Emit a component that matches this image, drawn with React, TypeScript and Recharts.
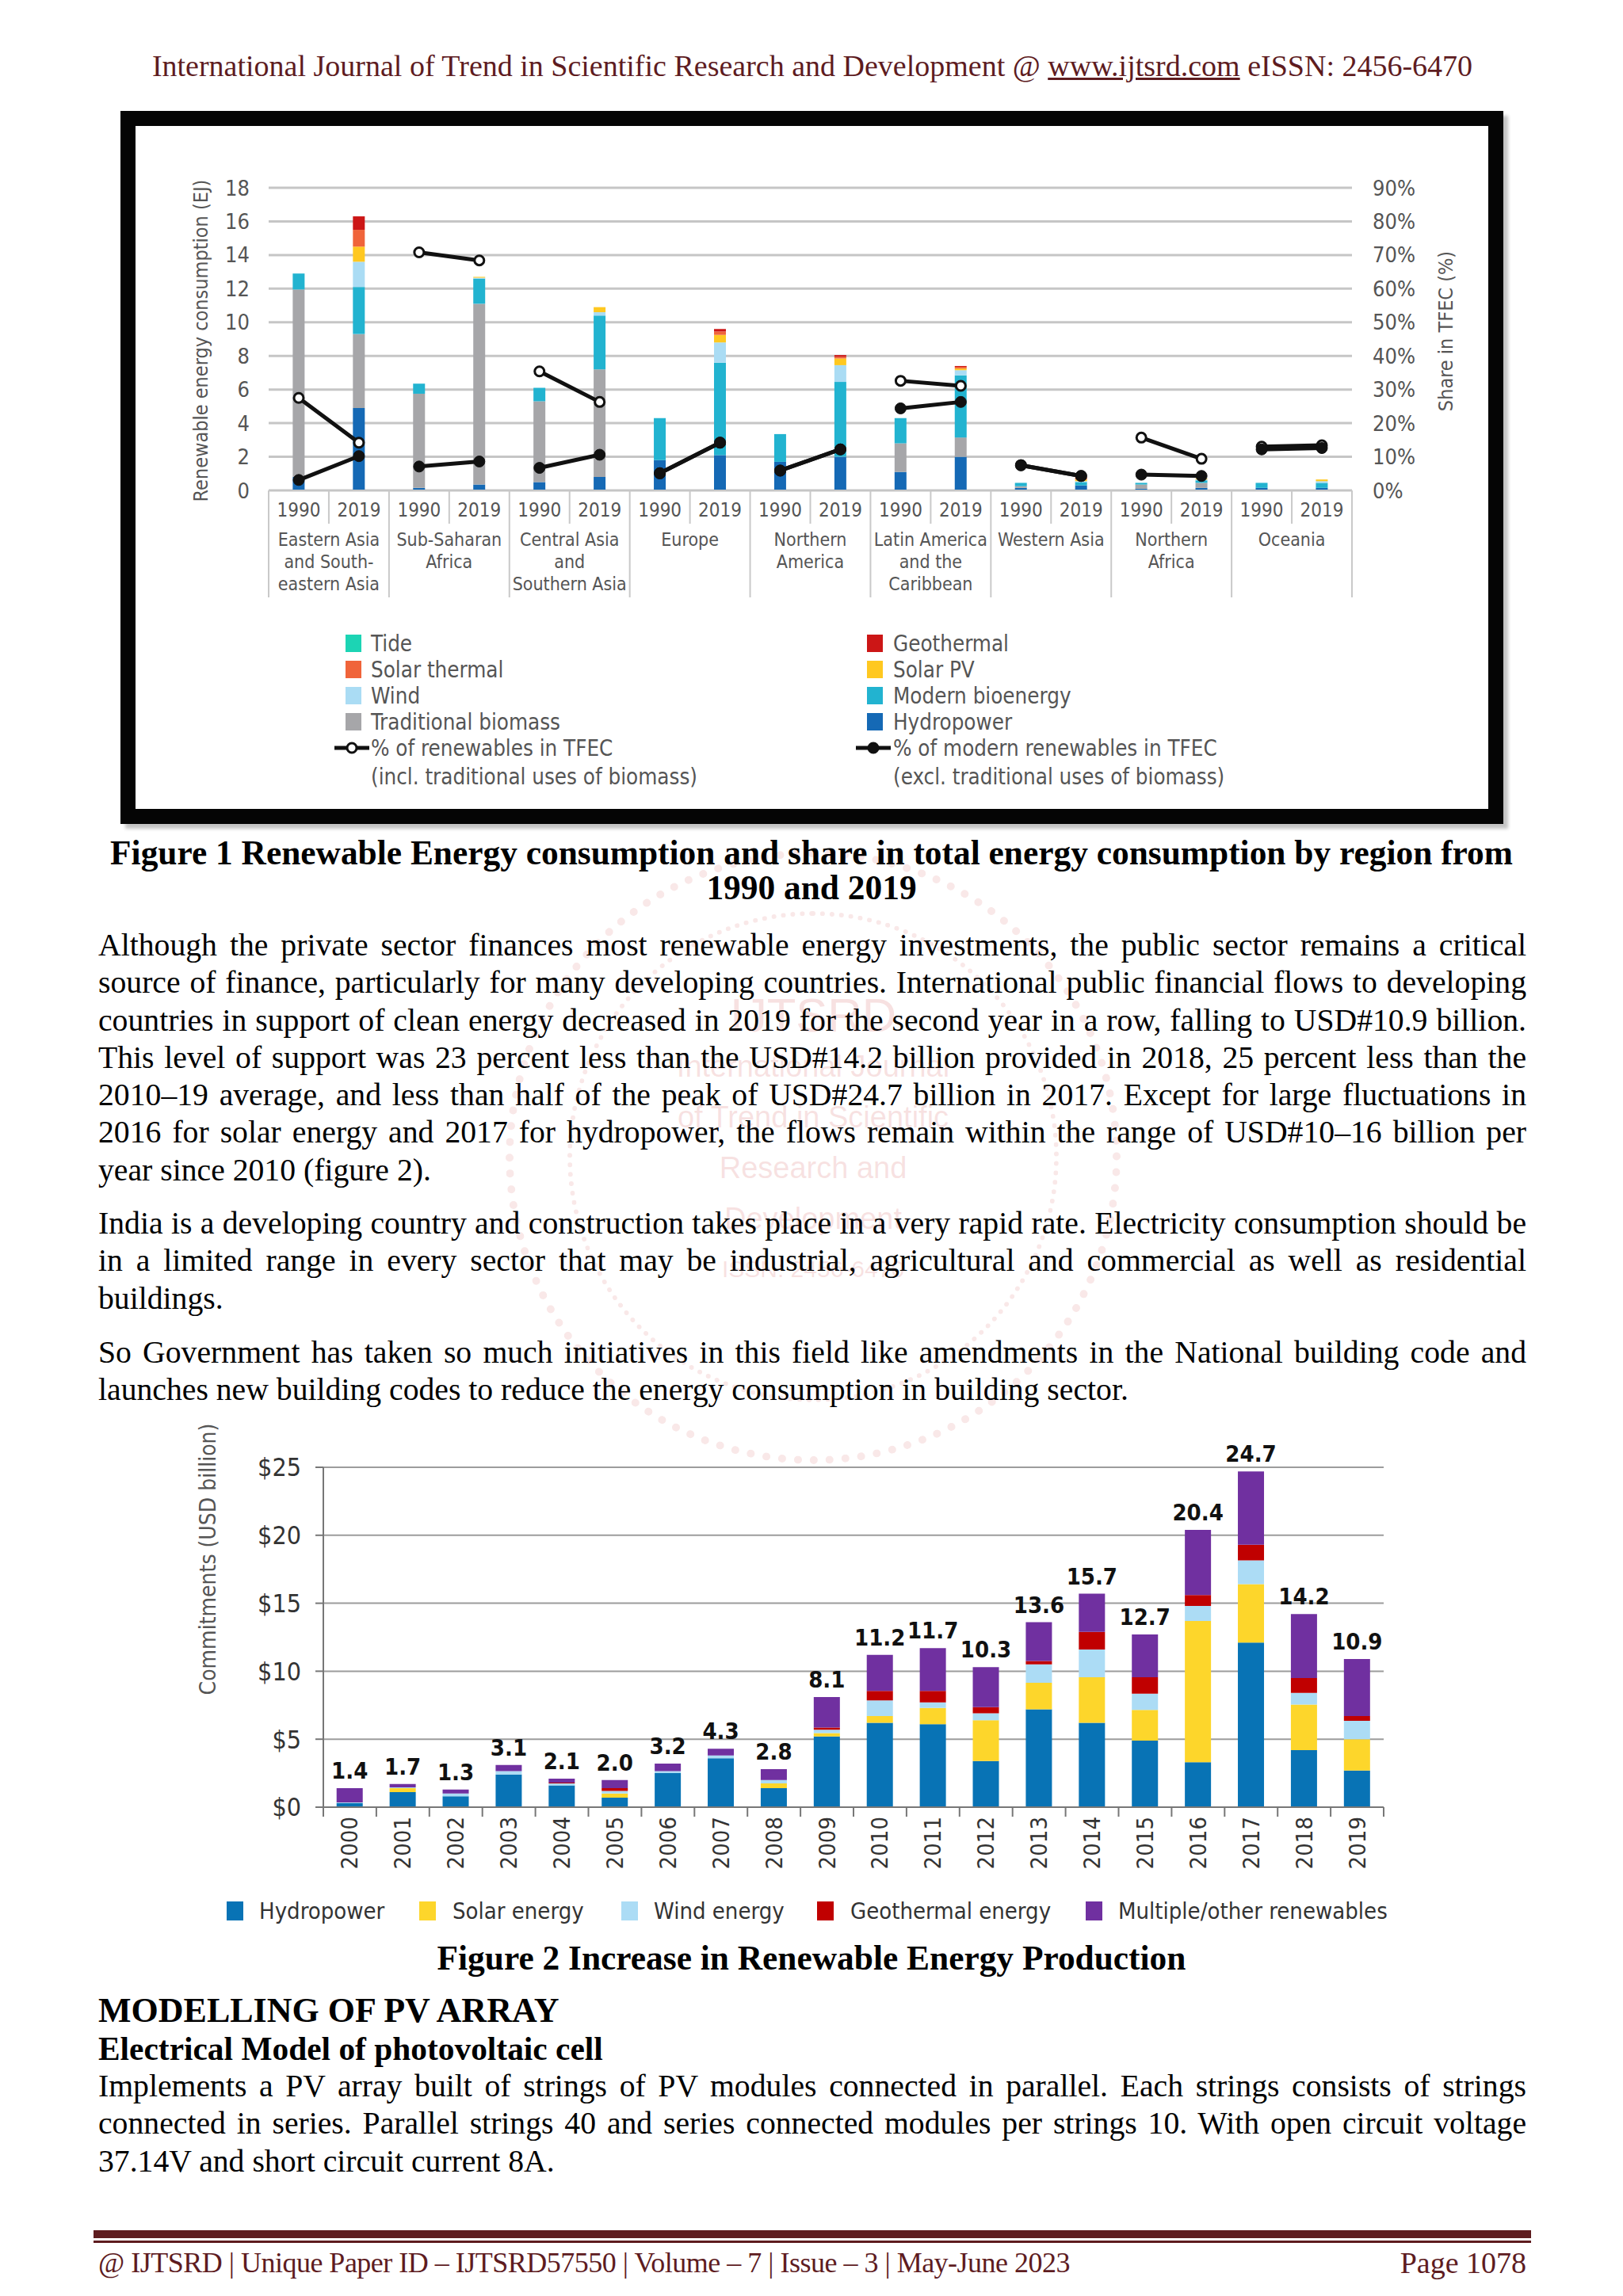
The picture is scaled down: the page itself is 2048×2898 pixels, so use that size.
import React from 'react';
import {
  Bar,
  BarChart,
  CartesianGrid,
  ComposedChart,
  LabelList,
  Line,
  XAxis,
  YAxis,
} from 'recharts';

const NARROW = "'Liberation Sans Narrow', 'Arial Narrow', 'DejaVu Sans Condensed', 'Liberation Sans', sans-serif";
const SERIF = "'Liberation Serif', 'Times New Roman', serif";
const MAROON = '#5e1c1f';

// ---- Figure 1: renewable energy consumption by region (EJ), 1990 / 2019 ----
const studyYears = ['1990', '2019'];
const regionLines = [
  ['Eastern Asia', 'and South-', 'eastern Asia'],
  ['Sub-Saharan', 'Africa'],
  ['Central Asia', 'and', 'Southern Asia'],
  ['Europe'],
  ['Northern', 'America'],
  ['Latin America', 'and the', 'Caribbean'],
  ['Western Asia'],
  ['Northern', 'Africa'],
  ['Oceania'],
];
// one value per bar: region order above, 1990 then 2019
const hydro = [0.8, 4.9, 0.15, 0.35, 0.5, 0.8, 1.8, 2.1, 1.7, 2.0, 1.1, 2.0, 0.15, 0.3, 0.1, 0.15, 0.15, 0.15];
const tradBiomass = [11.15, 4.4, 5.6, 10.75, 4.8, 6.4, 0, 0, 0, 0, 1.7, 1.15, 0.1, 0, 0.25, 0.3, 0, 0];
const modernBio = [0.95, 2.8, 0.6, 1.5, 0.8, 3.2, 2.5, 5.5, 1.65, 4.45, 1.5, 3.7, 0.2, 0.2, 0.1, 0.15, 0.3, 0.3];
const wind = [0, 1.5, 0, 0.05, 0, 0.2, 0, 1.2, 0, 1.0, 0, 0.3, 0, 0.05, 0, 0.05, 0, 0.1];
const solarPv = [0, 0.9, 0, 0.05, 0, 0.3, 0, 0.45, 0, 0.4, 0, 0.1, 0, 0.1, 0, 0.05, 0, 0.1];
const solarThermal = [0, 1.0, 0, 0, 0, 0, 0, 0.2, 0, 0.1, 0, 0.1, 0, 0.15, 0, 0, 0, 0];
const geothermal = [0, 0.8, 0, 0, 0, 0, 0, 0.15, 0, 0.1, 0, 0.05, 0, 0, 0, 0, 0, 0];
const tide = [0, 0, 0, 0, 0, 0, 0, 0, 0, 0, 0, 0, 0, 0, 0, 0, 0, 0];
// share in TFEC (%)
const shareIncl = [27.5, 14.2, 70.8, 68.4, 35.4, 26.3, 5.1, 14.2, 5.9, 12.2, 32.6, 31.1, 7.5, 4.3, 15.7, 9.4, 13.0, 13.4];
const shareExcl = [3.1, 10.2, 7.1, 8.6, 6.7, 10.6, 5.1, 14.2, 5.9, 12.2, 24.4, 26.3, 7.5, 4.3, 4.7, 4.3, 12.2, 12.6];

const C1 = {
  hydro: '#1569b5',
  trad: '#a6a6a9',
  modern: '#22b3d0',
  wind: '#aadcf4',
  pv: '#ffc820',
  thermal: '#f0643a',
  geo: '#cc1616',
  tide: '#1cd4b4',
};

// split the share lines in two keys so that each region gets its own segment
const f1Rows = regionLines.flatMap((_, ri) =>
  studyYears.map((yr, yi) => {
    const i = ri * 2 + yi;
    const even = ri % 2 === 0;
    return {
      key: `${ri}|${yr}`,
      hydro: hydro[i],
      trad: tradBiomass[i],
      modern: modernBio[i],
      wind: wind[i],
      pv: solarPv[i],
      thermal: solarThermal[i],
      geo: geothermal[i],
      tide: tide[i],
      inclA: even ? shareIncl[i] : null,
      inclB: even ? null : shareIncl[i],
      exclA: even ? shareExcl[i] : null,
      exclB: even ? null : shareExcl[i],
    };
  })
);

const F1 = { left: 170, top: 158, width: 1705, height: 620, plotLeft: 339, plotRight: 1706 };
const F1_SLOT = (F1.plotRight - F1.plotLeft) / f1Rows.length;

// ---- Figure 2: international public flows (USD billion) ----
const fundYears = ['2000', '2001', '2002', '2003', '2004', '2005', '2006', '2007', '2008', '2009', '2010', '2011', '2012', '2013', '2014', '2015', '2016', '2017', '2018', '2019'];
const fundHydro = [0.3, 1.1, 0.8, 2.4, 1.6, 0.7, 2.5, 3.6, 1.4, 5.2, 6.2, 6.1, 3.4, 7.2, 6.2, 4.9, 3.3, 12.1, 4.2, 2.7];
const fundSolar = [0, 0.3, 0, 0, 0, 0.3, 0, 0, 0.35, 0.25, 0.5, 1.2, 3.0, 1.95, 3.35, 2.25, 10.4, 4.3, 3.35, 2.3];
const fundWind = [0.05, 0.05, 0.2, 0.25, 0.15, 0.2, 0.15, 0.2, 0.25, 0.25, 1.15, 0.4, 0.5, 1.35, 2.05, 1.2, 1.1, 1.75, 0.85, 1.35];
const fundGeo = [0, 0, 0, 0, 0.05, 0.2, 0, 0, 0, 0.15, 0.7, 0.85, 0.45, 0.25, 1.3, 1.2, 0.8, 1.15, 1.1, 0.35];
const fundOther = [1.05, 0.25, 0.3, 0.45, 0.3, 0.6, 0.55, 0.5, 0.8, 2.25, 2.65, 3.15, 2.95, 2.85, 2.8, 3.15, 4.8, 5.4, 4.7, 4.2];
const fundTotals = [1.4, 1.7, 1.3, 3.1, 2.1, 2.0, 3.2, 4.3, 2.8, 8.1, 11.2, 11.7, 10.3, 13.6, 15.7, 12.7, 20.4, 24.7, 14.2, 10.9];

const C2 = { hydro: '#0873b5', solar: '#fdd62b', wind: '#acdcf5', geo: '#c00000', other: '#7030a0' };

const f2Rows = fundYears.map((year, i) => ({
  year,
  hydro: fundHydro[i],
  solar: fundSolar[i],
  wind: fundWind[i],
  geo: fundGeo[i],
  other: fundOther[i],
  total: fundTotals[i],
}));

const F2 = { left: 250, top: 1790, width: 1540, height: 590, plotLeft: 408, plotRight: 1746 };
const F2_SLOT = (F2.plotRight - F2.plotLeft) / f2Rows.length;

// ---- page text ----
const para1 = [
  'Although the private sector finances most renewable energy investments, the public sector remains a critical',
  'source of finance, particularly for many developing countries. International public financial flows to developing',
  'countries in support of clean energy decreased in 2019 for the second year in a row, falling to USD#10.9 billion.',
  'This level of support was 23 percent less than the USD#14.2 billion provided in 2018, 25 percent less than the',
  '2010–19 average, and less than half of the peak of USD#24.7 billion in 2017. Except for large fluctuations in',
  '2016 for solar energy and 2017 for hydropower, the flows remain within the range of USD#10–16 billion per',
  'year since 2010 (figure 2).',
];
const para2 = [
  'India is a developing country and construction takes place in a very rapid rate. Electricity consumption should be',
  'in a limited range in every sector that may be industrial, agricultural and commercial as well as residential',
  'buildings.',
];
const para3 = [
  'So Government has taken so much initiatives in this field like amendments in the National building code and',
  'launches new building codes to reduce the energy consumption in building sector.',
];
const para4 = [
  'Implements a PV array built of strings of PV modules connected in parallel. Each strings consists of strings',
  'connected in series. Parallel strings 40 and series connected modules per strings 10. With open circuit voltage',
  '37.14V and short circuit current 8A.',
];

function Paragraph({ lines, top }: { lines: string[]; top: number }) {
  return (
    <div style={{ position: 'absolute', left: 124, top, width: 1802, fontFamily: SERIF, fontSize: 39.7, lineHeight: '47.3px', color: '#000' }}>
      {lines.map((t, i) => (
        <div key={i} style={{ textAlign: 'justify', textAlignLast: i === lines.length - 1 ? 'left' : 'justify', whiteSpace: 'nowrap' }}>
          {t}
        </div>
      ))}
    </div>
  );
}

function F1Tick(props: any) {
  const { x, y, payload } = props;
  const [riStr, yr] = String(payload.value).split('|');
  const ri = Number(riStr);
  const half = F1_SLOT / 2;
  const isFirst = yr === studyYears[0];
  const isLastGroup = ri === regionLines.length - 1;
  const grey = '#c9c9c9';
  return (
    <g fontFamily={NARROW}>
      <text x={x} y={y + 33} textAnchor="middle" fontSize={24} fill="#555">
        {yr}
      </text>
      {isFirst && (
        <>
          <line x1={x - half} x2={x - half} y1={y} y2={y + 135} stroke={grey} strokeWidth={2} />
          <line x1={x + half} x2={x + half} y1={y} y2={y + 42} stroke={grey} strokeWidth={2} />
          {regionLines[ri].map((t, k) => (
            <text key={k} x={x + half} y={y + 70 + k * 28} textAnchor="middle" fontSize={23} fill="#555">
              {t}
            </text>
          ))}
        </>
      )}
      {!isFirst && isLastGroup && (
        <line x1={x + half} x2={x + half} y1={y} y2={y + 135} stroke={grey} strokeWidth={2} />
      )}
    </g>
  );
}

function F2Tick(props: any) {
  const { x, y, payload } = props;
  const half = F2_SLOT / 2;
  const last = payload.value === fundYears[fundYears.length - 1];
  return (
    <g>
      <line x1={x - half} x2={x - half} y1={y} y2={y + 12} stroke="#777" strokeWidth={2} />
      {last && <line x1={x + half} x2={x + half} y1={y} y2={y + 12} stroke="#777" strokeWidth={2} />}
      <text
        transform={`translate(${x + 10},${y + 12}) rotate(-90)`}
        textAnchor="end"
        fontSize={29}
        fill="#333"
        fontFamily={NARROW}
      >
        {payload.value}
      </text>
    </g>
  );
}

function Swatch({ x, y, color, w = 20, h = 22 }: { x: number; y: number; color: string; w?: number; h?: number }) {
  return <div style={{ position: 'absolute', left: x, top: y - h / 2, width: w, height: h, background: color }} />;
}

function Label({ x, y, text, size, color = '#555', family = NARROW, bold = false }: any) {
  return (
    <div
      style={{
        position: 'absolute',
        left: x,
        top: y - size * 0.6,
        fontSize: size,
        lineHeight: `${size * 1.2}px`,
        color,
        fontFamily: family,
        fontWeight: bold ? 700 : 400,
        whiteSpace: 'nowrap',
      }}
    >
      {text}
    </div>
  );
}

function LineSymbol({ x, y, open }: { x: number; y: number; open: boolean }) {
  return (
    <svg style={{ position: 'absolute', left: x, top: y - 10 }} width={48} height={20}>
      <line x1={2} x2={46} y1={10} y2={10} stroke="#111" strokeWidth={5} />
      <circle cx={24} cy={10} r={6} fill={open ? '#fff' : '#111'} stroke="#111" strokeWidth={3} />
    </svg>
  );
}

export default function App() {
  const f1LegendLeft = [
    { name: 'Tide', color: C1.tide },
    { name: 'Solar thermal', color: C1.thermal },
    { name: 'Wind', color: C1.wind },
    { name: 'Traditional biomass', color: C1.trad },
  ];
  const f1LegendRight = [
    { name: 'Geothermal', color: C1.geo },
    { name: 'Solar PV', color: C1.pv },
    { name: 'Modern bioenergy', color: C1.modern },
    { name: 'Hydropower', color: C1.hydro },
  ];
  const rowY = [812, 845, 878, 911, 944, 980];

  const f2Legend = [
    { name: 'Hydropower', color: C2.hydro, sx: 286, tx: 327 },
    { name: 'Solar energy', color: C2.solar, sx: 529, tx: 571 },
    { name: 'Wind energy', color: C2.wind, sx: 784, tx: 825 },
    { name: 'Geothermal energy', color: C2.geo, sx: 1031, tx: 1073 },
    { name: 'Multiple/other renewables', color: C2.other, sx: 1370, tx: 1411 },
  ];

  return (
    <div style={{ position: 'relative', width: 2048, height: 2898, background: '#fff', overflow: 'hidden' }}>
      <style>{'body{margin:0}'}</style>

      {/* watermark */}
      <div style={{ position: 'absolute', left: 1026 - 388, top: 1460 - 388, width: 776, height: 776, borderRadius: '50%', border: '10px dotted rgba(215,110,110,0.16)', boxSizing: 'border-box' }} />
      <div style={{ position: 'absolute', left: 1026 - 310, top: 1460 - 310, width: 620, height: 620, borderRadius: '50%', border: '6px dotted rgba(215,110,110,0.16)', boxSizing: 'border-box' }} />
      <div style={{ position: 'absolute', left: 726, top: 1250, width: 600, textAlign: 'center', fontFamily: "'Liberation Sans', sans-serif", color: 'rgba(220,120,120,0.22)', fontSize: 38, lineHeight: '64px' }}>
        <div style={{ fontSize: 60 }}>IJTSRD</div>
        <div>International Journal</div>
        <div>of Trend in Scientific</div>
        <div>Research and</div>
        <div>Development</div>
        <div style={{ fontSize: 30 }}>ISSN: 2456-6470</div>
      </div>

      {/* running header */}
      <div style={{ position: 'absolute', left: 0, top: 60, width: 2050, textAlign: 'center', fontFamily: SERIF, fontSize: 38, lineHeight: '46px', color: MAROON }}>
        International Journal of Trend in Scientific Research and Development @ <span style={{ textDecoration: 'underline' }}>www.ijtsrd.com</span> eISSN: 2456-6470
      </div>

      {/* Figure 1 frame */}
      <div style={{ position: 'absolute', left: 152, top: 140, width: 1745, height: 900, border: '19px solid #050505', boxSizing: 'border-box', background: '#fff', boxShadow: '6px 6px 4px #c4c4c4' }} />

      <div style={{ position: 'absolute', left: F1.left, top: F1.top }}>
        <ComposedChart
          width={F1.width}
          height={F1.height}
          data={f1Rows}
          margin={{ top: 79, right: 60, left: 60, bottom: 20 }}
          barCategoryGap="40%"
        >
          <CartesianGrid vertical={false} stroke="#c6c6c6" strokeWidth={3} yAxisId="l" />
          <XAxis dataKey="key" interval={0} tick={<F1Tick />} tickLine={false} tickSize={0} tickMargin={0} axisLine={{ stroke: '#c6c6c6', strokeWidth: 2 }} height={139} />
          <YAxis
            yAxisId="l"
            domain={[0, 18]}
            ticks={[0, 2, 4, 6, 8, 10, 12, 14, 16, 18]}
            width={109}
            axisLine={false}
            tickLine={false}
            tickSize={0}
            tickMargin={24}
            tick={{ fill: '#555', fontSize: 27, fontFamily: NARROW }}
          />
          <YAxis
            yAxisId="r"
            orientation="right"
            domain={[0, 90]}
            ticks={[0, 10, 20, 30, 40, 50, 60, 70, 80, 90]}
            tickFormatter={(v) => `${v}%`}
            width={109}
            axisLine={false}
            tickLine={false}
            tickSize={0}
            tickMargin={26}
            tick={{ fill: '#555', fontSize: 27, fontFamily: NARROW, textAnchor: 'start' }}
          />
          <Bar yAxisId="l" dataKey="hydro" stackId="s" fill={C1.hydro} isAnimationActive={false} />
          <Bar yAxisId="l" dataKey="trad" stackId="s" fill={C1.trad} isAnimationActive={false} />
          <Bar yAxisId="l" dataKey="modern" stackId="s" fill={C1.modern} isAnimationActive={false} />
          <Bar yAxisId="l" dataKey="wind" stackId="s" fill={C1.wind} isAnimationActive={false} />
          <Bar yAxisId="l" dataKey="pv" stackId="s" fill={C1.pv} isAnimationActive={false} />
          <Bar yAxisId="l" dataKey="thermal" stackId="s" fill={C1.thermal} isAnimationActive={false} />
          <Bar yAxisId="l" dataKey="geo" stackId="s" fill={C1.geo} isAnimationActive={false} />
          <Bar yAxisId="l" dataKey="tide" stackId="s" fill={C1.tide} isAnimationActive={false} />
          {['inclA', 'inclB'].map((k) => (
            <Line key={k} yAxisId="r" dataKey={k} stroke="#111" strokeWidth={5} connectNulls={false} dot={{ r: 6, fill: '#fff', stroke: '#111', strokeWidth: 3 }} isAnimationActive={false} />
          ))}
          {['exclA', 'exclB'].map((k) => (
            <Line key={k} yAxisId="r" dataKey={k} stroke="#111" strokeWidth={5} connectNulls={false} dot={{ r: 7, fill: '#111', stroke: '#111', strokeWidth: 1 }} isAnimationActive={false} />
          ))}
        </ComposedChart>
      </div>

      {/* Figure 1 axis titles */}
      <div style={{ position: 'absolute', left: 253, top: 430, transform: 'translate(-50%,-50%) rotate(-90deg)', whiteSpace: 'nowrap', fontFamily: NARROW, fontSize: 25, color: '#555' }}>
        Renewable energy consumption (EJ)
      </div>
      <div style={{ position: 'absolute', left: 1824, top: 418, transform: 'translate(-50%,-50%) rotate(-90deg)', whiteSpace: 'nowrap', fontFamily: NARROW, fontSize: 25, color: '#555' }}>
        Share in TFEC (%)
      </div>

      {/* Figure 1 legend */}
      {f1LegendLeft.map((it, i) => (
        <React.Fragment key={it.name}>
          <Swatch x={436} y={rowY[i]} color={it.color} />
          <Label x={468} y={rowY[i]} text={it.name} size={27.5} />
        </React.Fragment>
      ))}
      <LineSymbol x={420} y={rowY[4]} open />
      <Label x={468} y={rowY[4]} text="% of renewables in TFEC" size={27.5} />
      <Label x={468} y={rowY[5]} text="(incl. traditional uses of biomass)" size={27.5} />
      {f1LegendRight.map((it, i) => (
        <React.Fragment key={it.name}>
          <Swatch x={1094} y={rowY[i]} color={it.color} />
          <Label x={1127} y={rowY[i]} text={it.name} size={27.5} />
        </React.Fragment>
      ))}
      <LineSymbol x={1078} y={rowY[4]} open={false} />
      <Label x={1127} y={rowY[4]} text="% of modern renewables in TFEC" size={27.5} />
      <Label x={1127} y={rowY[5]} text="(excl. traditional uses of biomass)" size={27.5} />

      {/* Figure 1 caption */}
      <div style={{ position: 'absolute', left: 0, top: 1054, width: 2048, textAlign: 'center', fontFamily: SERIF, fontWeight: 700, fontSize: 43.4, lineHeight: '44px', color: '#000' }}>
        <div>Figure 1 Renewable Energy consumption and share in total energy consumption by region from</div>
        <div>1990 and 2019</div>
      </div>

      <Paragraph lines={para1} top={1170} />
      <Paragraph lines={para2} top={1521} />
      <Paragraph lines={para3} top={1684} />

      {/* Figure 2 */}
      <div style={{ position: 'absolute', left: F2.left, top: F2.top }}>
        <BarChart
          width={F2.width}
          height={F2.height}
          data={f2Rows}
          margin={{ top: 62, right: 44, left: 20, bottom: 9 }}
          barCategoryGap="25%"
        >
          <CartesianGrid vertical={false} stroke="#9c9c9c" strokeWidth={2} />
          <XAxis dataKey="year" interval={0} tick={<F2Tick />} tickLine={false} tickSize={0} tickMargin={0} axisLine={{ stroke: '#777', strokeWidth: 2 }} height={90} />
          <YAxis
            domain={[0, 25]}
            ticks={[0, 5, 10, 15, 20, 25]}
            tickFormatter={(v) => `$${v}`}
            width={138}
            axisLine={{ stroke: '#777', strokeWidth: 2 }}
            tickLine={{ stroke: '#777', strokeWidth: 2 }}
            tickSize={10}
            tickMargin={18}
            tick={{ fill: '#333', fontSize: 32, fontFamily: NARROW }}
          />
          <Bar dataKey="hydro" stackId="s" fill={C2.hydro} isAnimationActive={false} />
          <Bar dataKey="solar" stackId="s" fill={C2.solar} isAnimationActive={false} />
          <Bar dataKey="wind" stackId="s" fill={C2.wind} isAnimationActive={false} />
          <Bar dataKey="geo" stackId="s" fill={C2.geo} isAnimationActive={false} />
          <Bar dataKey="other" stackId="s" fill={C2.other} isAnimationActive={false}>
            <LabelList
              dataKey="total"
              position="top"
              offset={12}
              formatter={(v: any) => Number(v).toFixed(1)}
              style={{ fill: '#111', fontSize: 29, fontWeight: 700, fontFamily: NARROW }}
            />
          </Bar>
        </BarChart>
      </div>
      <div style={{ position: 'absolute', left: 262, top: 1968, transform: 'translate(-50%,-50%) rotate(-90deg)', whiteSpace: 'nowrap', fontFamily: NARROW, fontSize: 28, color: '#555' }}>
        Commitments (USD billion)
      </div>
      {f2Legend.map((it) => (
        <React.Fragment key={it.name}>
          <Swatch x={it.sx} y={2412} color={it.color} w={21} h={24} />
          <Label x={it.tx} y={2412} text={it.name} size={29} color="#333" />
        </React.Fragment>
      ))}

      <div style={{ position: 'absolute', left: 0, top: 2448, width: 2048, textAlign: 'center', fontFamily: SERIF, fontWeight: 700, fontSize: 43.4, lineHeight: '46px' }}>
        Figure 2 Increase in Renewable Energy Production
      </div>
      <div style={{ position: 'absolute', left: 124, top: 2514, fontFamily: SERIF, fontWeight: 700, fontSize: 44, lineHeight: '48px' }}>
        MODELLING OF PV ARRAY
      </div>
      <div style={{ position: 'absolute', left: 124, top: 2562, fontFamily: SERIF, fontWeight: 700, fontSize: 41.4, lineHeight: '48px' }}>
        Electrical Model of photovoltaic cell
      </div>
      <Paragraph lines={para4} top={2610} />

      {/* footer */}
      <div style={{ position: 'absolute', left: 118, top: 2815, width: 1814, height: 10, background: MAROON }} />
      <div style={{ position: 'absolute', left: 118, top: 2828, width: 1814, height: 3, background: MAROON }} />
      <div style={{ position: 'absolute', left: 124, top: 2836, fontFamily: SERIF, fontSize: 36, lineHeight: '40px', color: MAROON, whiteSpace: 'pre', letterSpacing: -0.5 }}>
        {'@ IJTSRD | Unique Paper ID – IJTSRD57550 | Volume – 7 | Issue – 3 | May-June 2023'}
      </div>
      <div style={{ position: 'absolute', right: 2048 - 1926, top: 2836, fontFamily: SERIF, fontSize: 38, lineHeight: '40px', color: MAROON }}>
        Page 1078
      </div>
    </div>
  );
}
